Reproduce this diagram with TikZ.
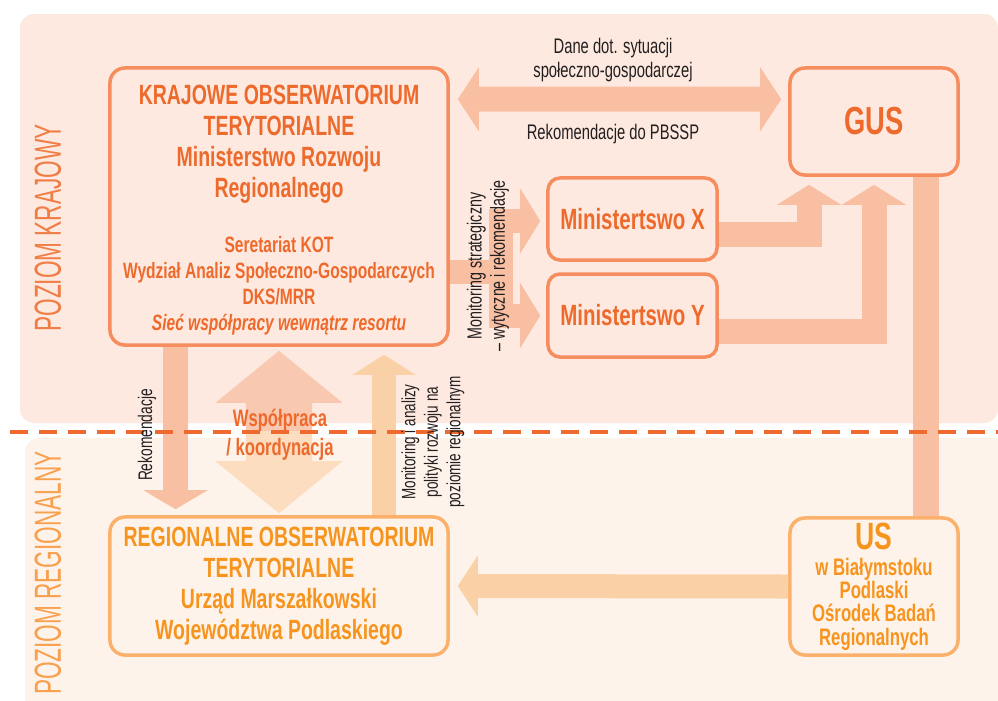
\documentclass[tikz,border=0pt]{standalone}
\usepackage{fontspec}
\setmainfont{Liberation Sans}[FakeStretch=0.7]
\newfontfamily\thinfont{Liberation Sans}[FakeStretch=0.6]
\usepackage{xcolor}
\usetikzlibrary{arrows.meta,calc}

\definecolor{paneltop}{HTML}{FDE9DF}
\definecolor{panelbot}{HTML}{FEF3EA}
\definecolor{salmon}{HTML}{F8BFA3}
\definecolor{peach}{HTML}{FAD0A7}
\definecolor{cooptop}{HTML}{F9C8B1}
\definecolor{coopbot}{HTML}{FCDDBF}
\definecolor{natline}{HTML}{F58D5E}
\definecolor{nattext}{HTML}{EE6A2C}
\definecolor{regline}{HTML}{FBB16C}
\definecolor{regtext}{HTML}{F7941E}
\definecolor{dashcol}{HTML}{EE6A2E}
\definecolor{natlevel}{HTML}{F07D45}
\definecolor{reglevel}{HTML}{F9A04F}
\definecolor{notetext}{HTML}{231F20}

\newcommand{\titlesize}{\fontsize{19.8}{22}\selectfont}

\tikzset{
  blocktip/.tip={Triangle[width=1.6cm, length=0.5cm, line width=0pt]},
  wideblocktip/.tip={Triangle[width=3.175cm, length=1.3cm, line width=0pt]},
}

\begin{document}
\begin{tikzpicture}[x=0.025cm, y=-0.025cm,
  natbox/.style={rectangle, rounded corners=0.375cm, draw=natline, line width=0.0875cm, fill=paneltop, text=nattext, align=center, inner sep=0pt},
  regbox/.style={rectangle, rounded corners=0.375cm, draw=regline, line width=0.0875cm, fill=panelbot, text=regtext, align=center, inner sep=0pt},
  band/.style={draw=salmon, line width=0.625cm},
  peachband/.style={draw=peach, line width=0.6cm},
  note/.style={text=notetext, align=center, font=\fontsize{15}{17}\selectfont},
  levellabel/.style={rotate=90, font=\thinfont\fontsize{26.8}{30}\selectfont},
]
  \useasboundingbox (0,0) rectangle (998,700);
  \clip (0,0) rectangle (998,700);
  \fill[white] (0,0) rectangle (998,700);

  % the two levels
  \fill[paneltop, rounded corners=0.35cm] (20,14) rectangle (998,423);
  \fill[panelbot, rounded corners=0.35cm] (25,438) rectangle (1030,730);

  \node[levellabel, text=natlevel] (krajlbl) at (48,228) {POZIOM KRAJOWY};
  \node[levellabel, text=reglevel] (reglbl) at (48,573) {POZIOM REGIONALNY};

  % boxes
  \node[natbox, minimum width=8.45cm, minimum height=6.925cm, font=\bfseries\fontsize{15.8}{18.5}\selectfont] (kot) at (279,206.5)
    {{\titlesize\rule{0pt}{19pt}KRAJOWE OBSERWATORIUM}\\[3.5pt]
     {\titlesize TERYTORIALNE}\\[3.5pt]
     {\titlesize Ministerstwo Rozwoju}\\[3.5pt]
     {\titlesize Regionalnego}\\[21pt]
     Seretariat KOT\\
     Wydział Analiz Społeczno-Gospodarczych\\
     DKS/MRR\\
     {\itshape Sieć współpracy wewnątrz resortu}};
  \node[natbox, minimum width=4.2cm, minimum height=2.675cm, font=\bfseries\fontsize{27.8}{30}\selectfont] (gus) at (874,121.5) {GUS};
  \node[natbox, rounded corners=0.3cm, minimum width=4.225cm, minimum height=2.05cm, font=\bfseries\fontsize{20.8}{24}\selectfont] (minx) at (632.5,219) {Ministertswo X};
  \node[natbox, rounded corners=0.3cm, minimum width=4.225cm, minimum height=2.075cm, font=\bfseries\fontsize{20.8}{24}\selectfont] (miny) at (632.5,315.5) {Ministertswo Y};
  \node[regbox, minimum width=8.45cm, minimum height=3.45cm, font=\bfseries\titlesize] (rot) at (279,586)
    {REGIONALNE OBSERWATORIUM\\
     TERYTORIALNE\\
     Urząd Marszałkowski\\
     Województwa Podlaskiego};
  \node[regbox, minimum width=4.2cm, minimum height=3.425cm, font=\bfseries\fontsize{17}{16.4}\selectfont] (us) at (874,586.5)
    {{\fontsize{27}{27}\selectfont US}\\[2.4pt]
     w Białymstoku\\
     Podlaski\\
     Ośrodek Badań\\
     Regionalnych};

  % block arrows
  \draw[band, {blocktip[length=0.525cm]}-{blocktip[length=0.525cm]}]
    ([shift={(8,33)}]kot.north east) -- ([shift={(-7,33)}]gus.north west);

  \coordinate (trunk) at ([shift={(51,65)}]kot.east);
  \draw[band, line width=0.6cm, -{blocktip[width=1.625cm]}] (kot.east |- trunk) -- (trunk) |- ([shift={(-6,2)}]minx.west);
  \draw[band, line width=0.6cm, -{blocktip[width=1.625cm]}] (kot.east |- trunk) -- (trunk) |- ([shift={(-6,0)}]miny.west);

  \draw[band, -blocktip] ([shift={(0,15)}]minx.east) -| ([shift={(-65,8)}]gus.south);
  \draw[band, -blocktip] ([shift={(0,16)}]miny.east) -| ([shift={(0,8)}]gus.south);
  \draw[band, line width=0.65cm] ([shift={(52,0)}]gus.south) -- ([shift={(52,0)}]us.north);

  \draw[peachband, -{blocktip[width=1.525cm]}] (us.west) -- ([shift={(8,0)}]rot.east);

  \draw[band, -{blocktip[length=0.475cm]}] ([shift={(-103.5,0)}]kot.south) -- ([shift={(-103.5,-6)}]rot.north);
  \draw[peachband, -{blocktip[width=1.575cm]}] ([shift={(105,0)}]rot.north) -- ([shift={(105,8)}]kot.south);

  \coordinate (coop) at ($(kot.south)!0.5!(rot.north)$);
  \draw[draw=cooptop, line width=1.65cm, -wideblocktip] (coop) -- ([shift={(0,4)}]kot.south);
  \draw[draw=coopbot, line width=1.65cm, -wideblocktip] (coop) -- ([shift={(0,-2)}]rot.north);

  % level divider
  \draw[dashcol, line width=0.0875cm, dash pattern=on 0.45cm off 0.275cm] (10,432) -- (998,432);

  % labels
  \node[note] (datalbl) at (613,60) {Dane dot. sytuacji\\społeczno-gospodarczej};
  \node[note] (reclbl) at (613,134) {Rekomendacje do PBSSP};
  \node[note, rotate=90, font=\fontsize{14.5}{16.4}\selectfont] (monlbl) at (488,266) {Monitoring strategiczny\\– wytyczne i rekomendacje};
  \node[note, rotate=90, font=\fontsize{14}{17}\selectfont] (reklbl) at (147,435) {Rekomendacje};
  \node[note, rotate=90, font=\fontsize{13.7}{16}\selectfont] (anlbl) at (433,442) {Monitoring i analizy\\polityki rozwoju na\\poziomie regionalnym};
  \node[text=nattext, align=center, font=\bfseries\fontsize{16.9}{20.6}\selectfont] (cooplbl) at (280,435) {Współpraca\\/ koordynacja};
\end{tikzpicture}
\end{document}
